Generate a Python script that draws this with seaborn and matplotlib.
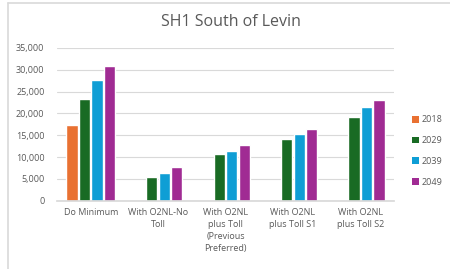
import matplotlib
matplotlib.use("Agg")
import matplotlib.pyplot as plt
import numpy as np
import pandas as pd
import seaborn as sns
from matplotlib.lines import Line2D
from matplotlib.patches import Patch

scenarios = [
    "Do Minimum",
    "With O2NL-No\nToll",
    "With O2NL\nplus Toll\n(Previous\nPreferred)",
    "With O2NL\nplus Toll S1",
    "With O2NL\nplus Toll S2",
]
years = ["2018", "2029", "2039", "2049"]
v2018 = [17400, np.nan, np.nan, np.nan, np.nan]
v2029 = [23200, 5400, 10700, 14100, 19250]
v2039 = [27600, 6350, 11450, 15300, 21550]
v2049 = [30800, 7800, 12750, 16500, 23100]
colors = ["#E97132", "#196B24", "#0F9ED5", "#A02B93"]

df = pd.DataFrame({
    "scenario": scenarios * 4,
    "year": [y for y in years for _ in scenarios],
    "value": v2018 + v2029 + v2039 + v2049,
})

sns.set_theme(style="white")
plt.rcParams["font.family"] = ["Open Sans", "DejaVu Sans"]
txt = "#595959"

fig = plt.figure(figsize=(4.5, 2.69), dpi=100)
ax = fig.add_axes([57 / 450, 1 - 200.7 / 269, (394 - 57) / 450, (200.7 - 48) / 269])

sns.barplot(data=df, x="scenario", y="value", hue="year", palette=colors,
            width=0.74, gap=0.1, ax=ax, legend=False, saturation=1)

ax.set_ylim(0, 35000)
ax.set_yticks(range(0, 35001, 5000))
ax.set_yticklabels([f"{t:,}" for t in range(0, 35001, 5000)])
ax.yaxis.grid(True, color="#D9D9D9", linewidth=0.8)
ax.set_axisbelow(True)
for s in ["top", "right", "left"]:
    ax.spines[s].set_visible(False)
ax.spines["bottom"].set_color("#D9D9D9")
ax.set_xlabel("")
ax.set_ylabel("")
ax.tick_params(axis="both", length=0, labelsize=6.5, colors=txt)
ax.tick_params(axis="y", pad=9)
ax.tick_params(axis="x", pad=5)
for lab in ax.get_xticklabels():
    lab.set_verticalalignment("top")
    lab.set_linespacing(1.45)

fig.text(231 / 450, 1 - 22 / 269, "SH1 South of Levin",
         ha="center", va="center", fontsize=11.5, color=txt)

handles = [Patch(facecolor=c, edgecolor="none") for c in colors]
fig.legend(handles, years, loc="center left", bbox_to_anchor=(404 / 450, 1 - 151 / 269),
           frameon=False, fontsize=6.5, labelcolor=txt, handlelength=0.8,
           handleheight=0.8, handletextpad=0.3, labelspacing=1.3)

fig.add_artist(Line2D([7.5 / 450, 1], [1 - 2.5 / 269, 1 - 2.5 / 269],
                      transform=fig.transFigure, color="#D9D9D9", linewidth=1.2))
fig.add_artist(Line2D([7.5 / 450, 7.5 / 450], [0, 1 - 2.5 / 269],
                      transform=fig.transFigure, color="#D9D9D9", linewidth=1.2))

fig.savefig("out.png", dpi=100)
